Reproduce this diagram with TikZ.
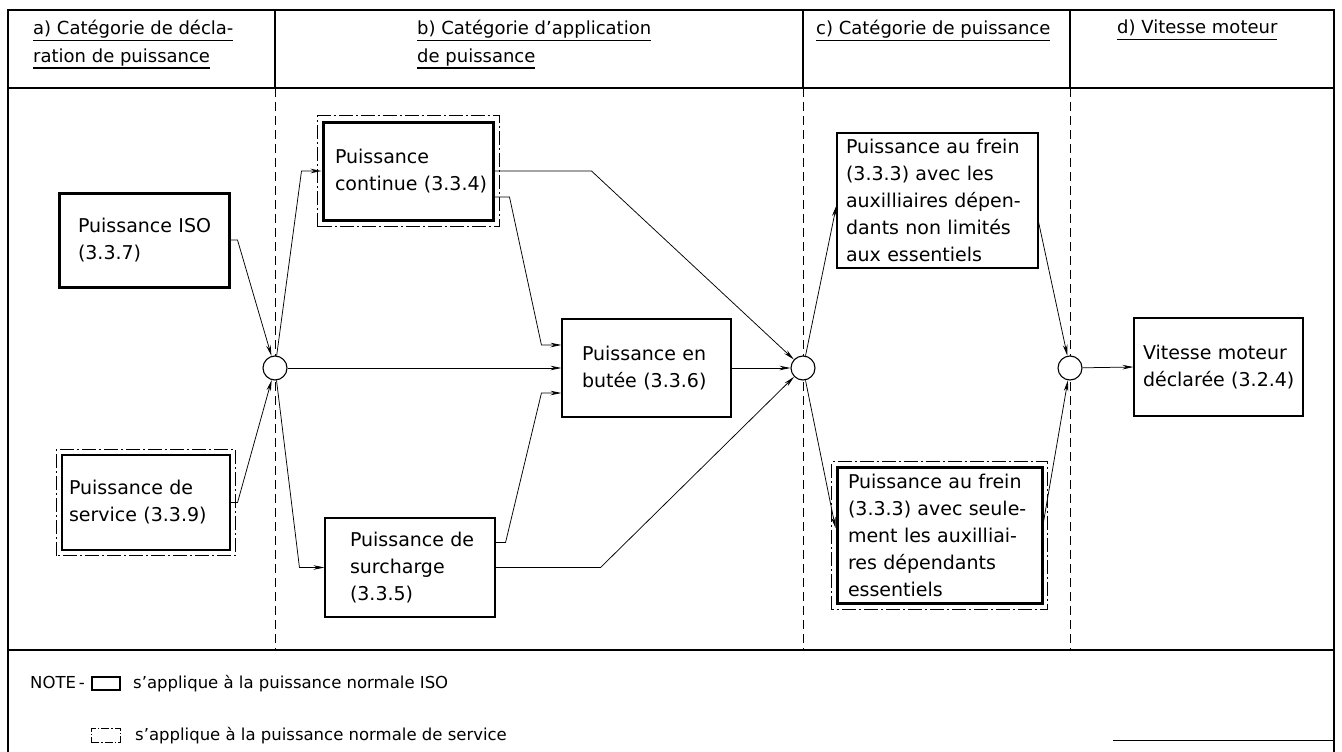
\documentclass[tikz,border=0pt]{standalone}
\usepackage{fontspec}
\setmainfont{DejaVu Sans}
\usetikzlibrary{arrows.meta}
\newsavebox\ulbox
\newcommand\hul[1]{\sbox\ulbox{#1}\rlap{\rule[-6.5pt]{\wd\ulbox}{1.1pt}}\usebox\ulbox}
\newcommand\bfnt{\fontsize{19}{27}\selectfont}
\newcommand\hfnt{\fontsize{18}{27.5}\selectfont}
\newcommand\nfnt{\fontsize{16.5}{20}\selectfont}
\begin{document}
\begin{tikzpicture}[x=1pt,y=-1pt,
  frame/.style={line width=2.5pt},
  sep/.style={line width=0.9pt, dash pattern=on 9pt off 5pt},
  box/.style={draw, line width=1.1pt, inner sep=0pt, align=left, font=\bfnt},
  isobox/.style={box, line width=3pt},
  svcline/.style={line width=0.6pt, dash pattern=on 14pt off 3pt on 2pt off 3pt},
  hub/.style={circle, draw, fill=white, minimum size=24pt, inner sep=0pt, line width=1.1pt},
  arr/.style={line width=0.75pt, -{Stealth[length=11pt,width=4.5pt]}},
  hdr/.style={inner sep=0pt, align=left, font=\hfnt, anchor=north west},
  txt/.style={inner sep=0pt, font=\nfnt, anchor=base west}]
\useasboundingbox (0,0) rectangle (1342,752);
% frame
\draw[frame] (8,752) -- (8,10) -- (1334,10) -- (1334,752);
\draw[frame] (8,88) -- (1334,88);
\draw[frame] (8,650) -- (1334,650);
\draw[frame] (275,10) -- (275,88);
\draw[frame] (803,10) -- (803,88);
\draw[frame] (1070,10) -- (1070,88);
\draw[line width=1pt] (1113,740) -- (1334,740);
% column separators
\draw[sep] (275,88) -- (275,650);
\draw[sep] (803,88) -- (803,650);
\draw[sep] (1070,88) -- (1070,650);
% headers
\node[hdr] (ha) at (33,20) {\hul{a) Catégorie de décla-}\\\hul{ration de puissance}};
\node[hdr] (hb) at (417,20) {\hul{b) Catégorie d’application}\\\hul{de puissance}};
\node[hdr] (hc) at (816,20) {\hul{c) Catégorie de puissance}};
\node[hdr] (hd) at (1117,20) {\hul{d) Vitesse moteur}};
% boxes
\node[isobox, minimum width=170pt, minimum height=94pt, text width=132pt] (iso) at (144,240) {Puissance~ISO\\(3.3.7)};
\node[box, minimum width=168pt, minimum height=95pt, text width=154pt] (svc) at (146,502.5) {Puissance~de\\service~(3.3.9)};
\node[isobox, minimum width=170pt, minimum height=98pt, text width=146pt] (cont) at (408,171) {Puissance\\continue~(3.3.4)};
\node[box, minimum width=170pt, minimum height=99pt, text width=120pt] (surch) at (410,567.5) {Puissance~de\\surcharge\\(3.3.5)};
\node[box, minimum width=169pt, minimum height=98pt, text width=129pt] (butee) at (646.5,368) {Puissance~en\\butée~(3.3.6)};
\node[box, minimum width=201pt, minimum height=135pt, text width=183pt] (frein1) at (937.5,200.5) {Puissance~au~frein\\(3.3.3)~avec~les\\auxilliaires~dépen-\\dants~non~limités\\aux~essentiels};
\node[isobox, minimum width=205pt, minimum height=136pt, text width=183pt] (frein2) at (939.5,535) {Puissance~au~frein\\(3.3.3)~avec~seule-\\ment~les~auxilliai-\\res~dépendants\\essentiels};
\node[box, minimum width=169pt, minimum height=98pt, text width=151pt] (vit) at (1218.5,367) {Vitesse~moteur\\déclarée~(3.2.4)};
% service outlines
\draw[svcline] ([shift={(-5,5)}]svc.south west) rectangle ([shift={(5,-5)}]svc.north east);
\draw[svcline] ([shift={(-4,5)}]cont.south west) rectangle ([shift={(5,-5)}]cont.north east);
\draw[svcline] ([shift={(-4,5)}]frein2.south west) rectangle ([shift={(4,-4)}]frein2.north east);
% hubs
\node[hub] (c1) at (275,368) {};
\node[hub] (c2) at (803,368) {};
\node[hub] (c3) at (1070,368) {};
% connectors
\draw[arr] (iso.east) -- ([xshift=7pt]iso.east) -- (c1);
\draw[arr] (svc.east) -- ([xshift=7pt]svc.east) -- (c1);
\draw[arr] (c1) -- ([xshift=-20pt]cont.west) -- (cont.west);
\draw[arr] (c1) -- (butee.west);
\draw[arr] (c1) -- ([xshift=-25pt]surch.west) -- (surch.west);
\draw[arr] (cont.east) -- ([xshift=97pt]cont.east) -- (c2);
\draw[arr] ([yshift=-26pt]cont.east) -- ([xshift=15pt,yshift=-26pt]cont.east) -- ([xshift=-20pt,yshift=23pt]butee.west) -- ([yshift=23pt]butee.west);
\draw[arr] ([yshift=25pt]surch.east) -- ([xshift=10pt,yshift=25pt]surch.east) -- ([xshift=-20pt,yshift=-25pt]butee.west) -- ([yshift=-25pt]butee.west);
\draw[arr] (surch.east) -- ([xshift=105pt]surch.east) -- (c2);
\draw[arr] (butee.east) -- (c2);
\draw[arr] (c2) -- ([yshift=-5pt]frein1.west);
\draw[arr] (c2) -- ([yshift=7pt]frein2.west);
\draw[arr] ([yshift=-21.5pt]frein1.east) -- (c3);
\draw[arr] ([yshift=13pt]frein2.east) -- (c3);
\draw[arr] (c3) -- (vit.west);
% note
\node[txt] (note) at (30,688) {NOTE\,-};
\node[draw, line width=2.5pt, minimum width=28pt, minimum height=13pt, inner sep=0pt] (legiso) at (106,683.5) {};
\node[txt] (noteiso) at (133,688) {s’applique à la puissance normale ISO};
\node[draw, svcline, dash pattern=on 8pt off 2pt on 1.5pt off 2pt, minimum width=29pt, minimum height=14pt, inner sep=0pt] (legsvc) at (105.5,735) {};
\node[txt] (notesvc) at (135,740) {s’applique à la puissance normale de service};
\end{tikzpicture}
\end{document}
